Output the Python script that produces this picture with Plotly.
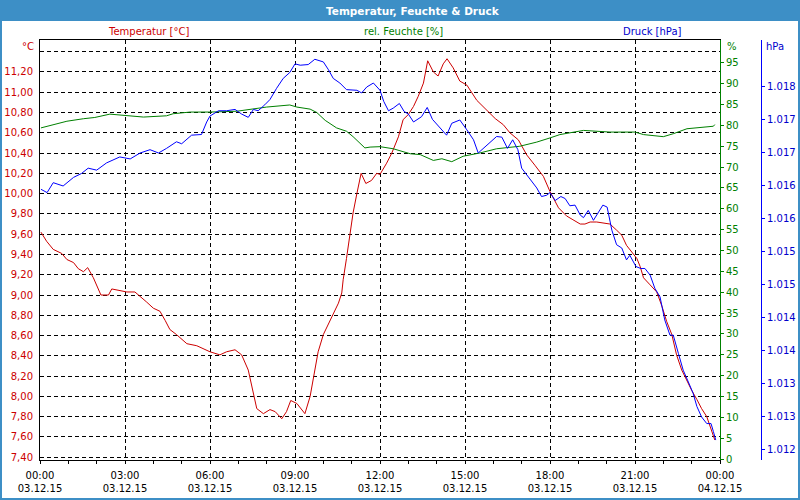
import plotly.graph_objects as go

# ---------------- data ----------------
# time in minutes since 03.12.15 00:00
temp_time = [2, 14, 28, 46, 57, 71, 81, 92, 101, 113, 129, 145, 152, 166, 184, 201, 212, 226, 240, 254,
             265, 275, 289, 311, 332, 346, 360, 381, 395, 413, 427, 441, 448, 459, 473, 487, 498, 512,
             522, 531, 544, 561, 572, 579, 589, 600, 611, 621, 632, 639, 642, 649, 656, 663, 671, 680,
             690, 702, 713, 720, 734, 745, 759, 769, 780, 791, 801, 812, 821, 833, 843, 854, 862, 875,
             889, 904, 925, 946, 964, 981, 995, 1013, 1031, 1048, 1066, 1080, 1098, 1115, 1129, 1144,
             1154, 1165, 1179, 1193, 1207, 1221, 1232, 1242, 1253, 1264, 1271, 1278, 1292, 1306, 1317,
             1327, 1338, 1348, 1359, 1370, 1380, 1391, 1401, 1412, 1419, 1426, 1429]
temp_vals = [9.62, 9.53, 9.45, 9.41, 9.35, 9.32, 9.26, 9.23, 9.27, 9.17, 9.00, 9.00, 9.06, 9.05, 9.03, 9.03,
             8.99, 8.93, 8.87, 8.84, 8.75, 8.66, 8.61, 8.52, 8.50, 8.47, 8.44, 8.41, 8.44, 8.46, 8.41,
             8.26, 8.10, 7.88, 7.83, 7.87, 7.85, 7.78, 7.85, 7.96, 7.93, 7.83, 8.00, 8.20, 8.44, 8.61,
             8.72, 8.81, 8.92, 9.02, 9.15, 9.36, 9.61, 9.81, 10.00, 10.20, 10.10, 10.13, 10.20, 10.19,
             10.30, 10.40, 10.56, 10.73, 10.78, 10.86, 10.96, 11.09, 11.31, 11.20, 11.16, 11.28, 11.33,
             11.24, 11.11, 11.07, 10.92, 10.82, 10.74, 10.68, 10.60, 10.53, 10.38, 10.28, 10.17, 10.02,
             9.86, 9.78, 9.74, 9.70, 9.70, 9.72, 9.72, 9.71, 9.70, 9.64, 9.59, 9.49, 9.42, 9.36, 9.28,
             9.17, 9.10, 9.03, 8.89, 8.74, 8.61, 8.41, 8.26, 8.15, 8.06, 7.97, 7.88, 7.80, 7.70, 7.62, 7.57]

hum_time = [2, 28, 57, 92, 116, 148, 176, 219, 268, 282, 318, 360, 417, 480, 529, 544, 572, 586, 604, 628,
            649, 663, 688, 699, 720, 748, 784, 805, 833, 851, 872, 896, 932, 967, 1016, 1052, 1080, 1101,
            1151, 1207, 1260, 1278, 1320, 1341, 1370, 1412, 1426, 1429]
hum_vals = [79.4, 80.2, 81.0, 81.6, 81.9, 82.7, 82.4, 82.0, 82.3, 82.8, 83.2, 83.2, 83.4, 84.4, 84.9, 84.4,
            83.9, 83.1, 81.2, 79.4, 78.6, 77.3, 74.6, 74.8, 74.9, 74.4, 73.2, 73.0, 71.6, 72.0, 71.3, 72.6,
            73.4, 74.4, 75.0, 76.0, 77.0, 77.8, 78.8, 78.4, 78.4, 77.8, 77.3, 78.0, 79.2, 79.6, 79.8, 80.2]

press_time = [2, 15, 28, 49, 71, 88, 102, 120, 141, 169, 191, 212, 233, 251, 268, 289, 300, 321, 342, 353,
              360, 378, 395, 413, 427, 441, 452, 462, 476, 487, 501, 515, 529, 540, 551, 568, 582, 600,
              611, 621, 635, 649, 671, 681, 692, 706, 720, 728, 738, 748, 761, 771, 780, 791, 808, 820,
              831, 843, 851, 861, 872, 889, 904, 918, 928, 946, 967, 978, 990, 1001, 1012, 1020, 1031,
              1041, 1052, 1062, 1073, 1080, 1091, 1103, 1112, 1122, 1133, 1144, 1151, 1161, 1172, 1192,
              1201, 1211, 1221, 1232, 1242, 1249, 1262, 1272, 1281, 1292, 1302, 1313, 1323, 1334, 1341,
              1352, 1362, 1373, 1383, 1391, 1401, 1412, 1421, 1426, 1431]
press_vals = [1015.95, 1015.90, 1016.05, 1016.00, 1016.13, 1016.19, 1016.27, 1016.24, 1016.35, 1016.44,
              1016.41, 1016.50, 1016.55, 1016.50, 1016.57, 1016.67, 1016.64, 1016.77, 1016.78, 1016.97,
              1017.06, 1017.14, 1017.14, 1017.16, 1017.09, 1017.04, 1017.16, 1017.14, 1017.23, 1017.31,
              1017.48, 1017.63, 1017.72, 1017.85, 1017.83, 1017.84, 1017.92, 1017.88, 1017.76, 1017.63,
              1017.56, 1017.46, 1017.45, 1017.41, 1017.50, 1017.56, 1017.45, 1017.28, 1017.14, 1017.18,
              1017.25, 1017.13, 1017.09, 1016.97, 1017.05, 1017.19, 1017.01, 1016.92, 1016.86, 1016.77,
              1016.95, 1017.00, 1016.85, 1016.70, 1016.50, 1016.62, 1016.75, 1016.74, 1016.57, 1016.70,
              1016.55, 1016.27, 1016.17, 1016.07, 1015.97, 1015.84, 1015.86, 1015.90, 1015.78, 1015.84,
              1015.81, 1015.70, 1015.71, 1015.56, 1015.52, 1015.63, 1015.48, 1015.71, 1015.68, 1015.33,
              1015.11, 1015.06, 1014.88, 1014.95, 1014.78, 1014.75, 1014.75, 1014.65, 1014.45, 1014.32,
              1013.97, 1013.74, 1013.74, 1013.46, 1013.21, 1013.03, 1012.86, 1012.66, 1012.50, 1012.40,
              1012.40, 1012.28, 1012.15]

x_tick_vals = [0, 180, 360, 540, 720, 900, 1080, 1260, 1440]
x_tick_times = ["00:00", "03:00", "06:00", "09:00", "12:00", "15:00", "18:00", "21:00", "00:00"]
x_tick_dates = ["03.12.15"] * 8 + ["04.12.15"]

temp_ticks = [7.4, 7.6, 7.8, 8.0, 8.2, 8.4, 8.6, 8.8, 9.0, 9.2, 9.4, 9.6, 9.8, 10.0, 10.2, 10.4, 10.6,
              10.8, 11.0, 11.2, 11.4]
hum_ticks = list(range(0, 100, 5))
press_ticks = [1012.0, 1012.5, 1013.0, 1013.5, 1014.0, 1014.5, 1015.0, 1015.5, 1016.0, 1016.5, 1017.0, 1017.5]
press_tick_labels = ["1.012", "1.013", "1.013", "1.014", "1.014", "1.015", "1.015", "1.016", "1.016",
                     "1.017", "1.017", "1.018"]

# ---------------- styling ----------------
RED = "#cc0000"
GREEN = "#008000"
BLUE = "#0000ff"
BLUE_TXT = "#0000cc"
BAR = "#3d8fc6"
FONT = "DejaVu Sans"

W, H = 800, 500
ML, MR, MT, MB = 40, 20, 40, 40
PW = W - ML - MR
PH = H - MT - MB


def px(x):
    return (x - ML) / PW


def py(y):
    return (H - MB - y) / PH


temp_text = [("" if v >= 11.39 else f"{v:.2f}".replace(".", ",")) for v in temp_ticks]

fig = go.Figure()
fig.add_trace(go.Scatter(x=hum_time, y=hum_vals, mode="lines", line=dict(color=GREEN, width=1),
                         yaxis="y2", name="rel. Feuchte"))
fig.add_trace(go.Scatter(x=press_time, y=press_vals, mode="lines", line=dict(color=BLUE, width=1),
                         yaxis="y3", name="Druck"))
fig.add_trace(go.Scatter(x=temp_time, y=temp_vals, mode="lines", line=dict(color=RED, width=1),
                         yaxis="y", name="Temperatur"))

fig.update_layout(
    width=W, height=H,
    margin=dict(l=ML, r=MR, t=MT, b=MB, pad=0, autoexpand=False),
    paper_bgcolor="white", plot_bgcolor="white",
    showlegend=False,
    font=dict(family=FONT, size=10, color="black"),
    xaxis=dict(
        domain=[0, 680 / PW], range=[0, 1440], automargin=False,
        tickvals=x_tick_vals,
        ticktext=[f"{a}<br>{b}" for a, b in zip(x_tick_times, x_tick_dates)],
        showline=True, linecolor="black", linewidth=1, mirror=True,
        ticks="outside", ticklen=3, tickcolor="black",
        minor=dict(dtick=60, tick0=0, ticks="outside", ticklen=3, tickcolor="black", showgrid=False),
        showgrid=True, gridcolor="black", griddash="4px,3px", gridwidth=1,
        zeroline=False, tickfont=dict(size=10, color="black"),
        ticklabelstandoff=3,
    ),
    yaxis=dict(
        range=[7.373, 11.515], automargin=False,
        tickvals=temp_ticks, ticktext=temp_text,
        showline=True, linecolor="black", linewidth=1,
        ticks="", showgrid=True, gridcolor="black", griddash="4px,3px", gridwidth=1,
        zeroline=False, tickfont=dict(size=10, color=RED), ticklabelstandoff=4,
    ),
    yaxis2=dict(
        overlaying="y", side="right", anchor="x", automargin=False,
        range=[-0.24, 100.48], tickvals=hum_ticks,
        showline=True, linecolor=GREEN, linewidth=1,
        ticks="outside", ticklen=3, tickcolor=GREEN,
        showgrid=False, zeroline=False, tickfont=dict(size=10, color=GREEN),
    ),
    yaxis3=dict(
        overlaying="y", side="right", anchor="free", position=px(761), automargin=False,
        range=[1011.848, 1018.212], tickvals=press_ticks, ticktext=press_tick_labels,
        showline=True, linecolor=BLUE, linewidth=1,
        ticks="outside", ticklen=3, tickcolor=BLUE,
        showgrid=False, zeroline=False, tickfont=dict(size=10, color=BLUE_TXT),
    ),
    shapes=[
        dict(type="rect", xref="paper", yref="paper", x0=px(-2), x1=px(802), y0=py(21), y1=py(-2),
             fillcolor=BAR, line=dict(width=0), layer="below"),
        dict(type="rect", xref="paper", yref="paper", x0=px(0), x1=px(800), y0=py(500), y1=py(0),
             fillcolor="rgba(0,0,0,0)", line=dict(color=BAR, width=4), layer="above"),
    ],
    annotations=[
        dict(text="<b>Temperatur, Feuchte & Druck</b>", xref="paper", yref="paper", x=px(413), y=py(10.5),
             showarrow=False, xanchor="center", yanchor="middle", font=dict(size=10.5, color="white")),
        dict(text="Temperatur [°C]", xref="paper", yref="paper", x=px(148), y=py(31),
             showarrow=False, xanchor="center", yanchor="middle", font=dict(size=10, color=RED)),
        dict(text="rel. Feuchte [%]", xref="paper", yref="paper", x=px(403), y=py(31),
             showarrow=False, xanchor="center", yanchor="middle", font=dict(size=10, color=GREEN)),
        dict(text="Druck [hPa]", xref="paper", yref="paper", x=px(652), y=py(31),
             showarrow=False, xanchor="center", yanchor="middle", font=dict(size=10, color=BLUE_TXT)),
        dict(text="°C", xref="paper", yref="paper", x=px(36), y=py(46.5),
             showarrow=False, xanchor="right", yanchor="middle", font=dict(size=10, color=RED)),
        dict(text="%", xref="paper", yref="paper", x=px(725), y=py(46.5),
             showarrow=False, xanchor="left", yanchor="middle", font=dict(size=10, color=GREEN)),
        dict(text="hPa", xref="paper", yref="paper", x=px(764), y=py(46.5),
             showarrow=False, xanchor="left", yanchor="middle", font=dict(size=10, color=BLUE_TXT)),
    ],
)

fig.write_html("out.html")
